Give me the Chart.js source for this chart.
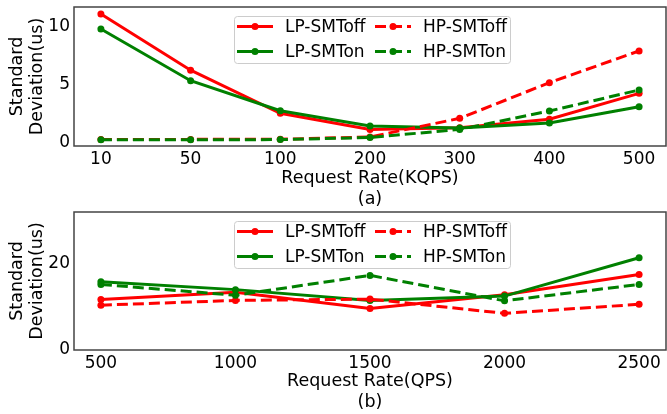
<!DOCTYPE html>
<html><head><meta charset="utf-8">
<script src="https://cdn.jsdelivr.net/npm/chart.js@4"></script>
<style>html,body{margin:0;padding:0;background:#fff;overflow:hidden;width:667px;height:414px}
canvas{position:absolute;left:0}
#c1{top:0}#c2{top:207px}</style></head>
<body>
<canvas id="c1" width="667" height="212"></canvas>
<canvas id="c2" width="667" height="207"></canvas>
<script>
// ---- data ----
const seriesNames = ['LP-SMToff', 'LP-SMTon', 'HP-SMToff', 'HP-SMTon'];
const seriesColors = ['#ff0000', '#008000', '#ff0000', '#008000'];
const seriesDashed = [false, false, true, true];

// (a) Request Rate (KQPS) - categorical
const kqpsLabels = ['10', '50', '100', '200', '300', '400', '500'];
const lpSMToffA = [11.08, 6.24, 2.53, 1.15, 1.29, 2.02, 4.25];
const lpSMTonA  = [9.79, 5.34, 2.76, 1.44, 1.27, 1.70, 3.10];
const hpSMToffA = [0.29, 0.29, 0.30, 0.50, 2.10, 5.17, 7.90];
const hpSMTonA  = [0.26, 0.26, 0.27, 0.45, 1.15, 2.73, 4.54];
const yTicksA = [0, 5, 10];

// (b) Request Rate (QPS)
const qpsValues = [500, 1000, 1500, 2000, 2500];
const lpSMToffB = [11.7, 13.4, 9.6, 12.8, 17.5];
const lpSMTonB  = [15.8, 14.0, 11.5, 12.5, 21.4];
const hpSMToffB = [10.4, 11.5, 11.8, 8.5, 10.6];
const hpSMTonB  = [15.2, 12.7, 17.3, 11.4, 15.2];
const yTicksB = [0, 20];

Chart.defaults.font.family = "'DejaVu Sans', sans-serif";
Chart.defaults.color = '#000';

const FS = 17;
const FT = 17.5;

const frameAndLegend = {
  id: 'frameAndLegend',
  afterDraw(chart) {
    const ctx = chart.ctx, a = chart.chartArea;
    ctx.save();
    ctx.strokeStyle = '#444';
    ctx.lineWidth = 1.5;
    ctx.strokeRect(a.left, a.top, a.right - a.left, a.bottom - a.top);
    // legend
    const bx = a.left + 160, by = a.top + 9, bw = 276, bh = 47;
    ctx.beginPath();
    ctx.roundRect(bx + 0.5, by + 0.5, bw, bh, 3);
    ctx.fillStyle = 'rgba(255,255,255,0.8)';
    ctx.fill();
    ctx.strokeStyle = '#cccccc';
    ctx.lineWidth = 1;
    ctx.stroke();
    ctx.font = FS + "px 'DejaVu Sans'";
    ctx.textBaseline = 'middle';
    ctx.textAlign = 'left';
    chart.data.datasets.forEach((ds, i) => {
      const col = i < 2 ? 0 : 1, row = i % 2;
      const x0 = bx + 3 + col * 138;
      const y = by + 10.5 + row * 25;
      ctx.strokeStyle = ds.borderColor;
      ctx.lineWidth = 3;
      ctx.setLineDash(ds.borderDash || []);
      ctx.beginPath();
      ctx.moveTo(x0, y); ctx.lineTo(x0 + 36, y);
      ctx.stroke();
      ctx.setLineDash([]);
      ctx.fillStyle = ds.borderColor;
      ctx.beginPath();
      ctx.arc(x0 + 18, y, 3.5, 0, Math.PI * 2);
      ctx.fill();
      ctx.fillStyle = '#000';
      ctx.fillText(ds.label, x0 + 48, y + 1);
    });
    ctx.restore();
  }
};

function makeDatasets(xs, arrays) {
  return arrays.map((arr, i) => ({
    label: seriesNames[i],
    data: arr.map((v, j) => ({ x: xs[j], y: v })),
    borderColor: seriesColors[i],
    backgroundColor: seriesColors[i],
    borderWidth: 3,
    borderDash: seriesDashed[i] ? [11, 5] : [],
    pointRadius: 3.5,
    pointHoverRadius: 3.5,
    pointBorderWidth: 0,
    tension: 0,
    order: 3 - i
  }));
}

function makeChart(id, cfg) {
  return new Chart(document.getElementById(id), {
    type: 'line',
    data: { datasets: makeDatasets(cfg.xs, cfg.arrays) },
    options: {
      responsive: false,
      animation: false,
      devicePixelRatio: 1,
      layout: { autoPadding: false, padding: { top: cfg.padTop, right: 1, bottom: cfg.padBottom, left: 0 } },
      plugins: { legend: { display: false }, tooltip: { enabled: false } },
      scales: {
        x: {
          type: 'linear',
          min: cfg.xmin, max: cfg.xmax,
          afterBuildTicks: s => { s.ticks = cfg.xTicks.map(v => ({ value: v })); },
          ticks: { callback: cfg.xLabel, autoSkip: false, maxRotation: 0, padding: 3, font: { size: FS }, color: '#000' },
          grid: { display: false, drawTicks: false },
          border: { display: false },
          title: { display: true, text: cfg.xTitle, color: '#000', font: { size: FT, lineHeight: 1.2 }, padding: { top: 0, bottom: 0 } },
          afterFit: s => { s.height = cfg.xHeight; s.paddingLeft = 0; s.paddingRight = 0; }
        },
        y: {
          min: cfg.ymin, max: cfg.ymax,
          afterBuildTicks: s => { s.ticks = cfg.yTicks.map(v => ({ value: v })); },
          ticks: { padding: 4, font: { size: FS }, color: '#000' },
          grid: { display: false, drawTicks: false },
          border: { display: false },
          title: { display: true, text: ['Standard', 'Deviation(us)'], color: '#000', font: { size: FT, lineHeight: 1.15 }, padding: { top: 7, bottom: 0 } },
          afterFit: s => { s.width = 74; s.paddingTop = 0; s.paddingBottom = 0; }
        }
      }
    },
    plugins: [frameAndLegend]
  });
}

makeChart('c1', {
  xs: kqpsLabels.map((_, i) => i),
  arrays: [lpSMToffA, lpSMTonA, hpSMToffA, hpSMTonA],
  xmin: -0.3, xmax: 6.3,
  xTicks: kqpsLabels.map((_, i) => i),
  xLabel: v => kqpsLabels[v],
  xTitle: ['Request Rate(KQPS)', '(a)'],
  ymin: -0.28, ymax: 11.68, yTicks: yTicksA,
  padTop: 7, padBottom: 2.5, xHeight: 63.5
});

makeChart('c2', {
  xs: qpsValues,
  arrays: [lpSMToffB, lpSMTonB, hpSMToffB, hpSMTonB],
  xmin: 400, xmax: 2600,
  xTicks: qpsValues,
  xLabel: v => String(v),
  xTitle: ['Request Rate(QPS)', '(b)'],
  ymin: 0, ymax: 32, yTicks: yTicksB,
  padTop: 5, padBottom: 1, xHeight: 63
});
</script>
</body></html>
